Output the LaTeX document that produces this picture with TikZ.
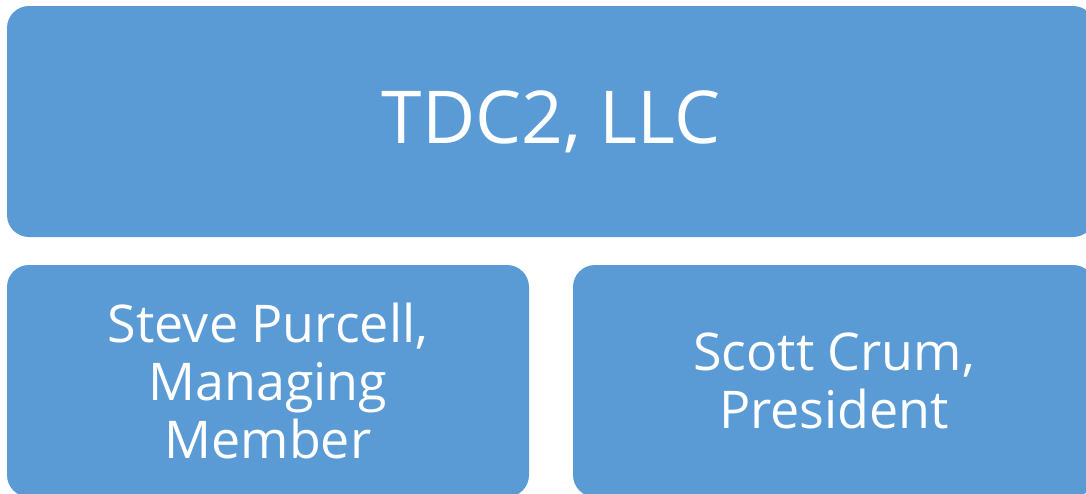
\documentclass[tikz,border=0pt]{standalone}
\usepackage{fontspec}
\setmainfont{Open Sans}
\definecolor{boxblue}{HTML}{5B9BD5}
\begin{document}
\begin{tikzpicture}[x=1pt,y=-1pt,
  box/.style={fill=boxblue,draw=none,rounded corners=22pt,text=white,align=center,inner sep=0pt},
  title/.style={font=\fontsize{73}{86}\selectfont},
  sub/.style={font=\fontsize{52}{58}\selectfont}]
\useasboundingbox (0,0) rectangle (1086,493);
\node[box,title,minimum width=1088pt,minimum height=231pt] (top) at (551,121.5) {TDC2, LLC};
\node[box,sub,minimum width=522pt,minimum height=232pt] (left) at (268,381) {Steve Purcell,\\Managing\\Member};
\node[box,sub,minimum width=522pt,minimum height=232pt] (right) at (834,381) {Scott Crum,\\President};
\end{tikzpicture}
\end{document}
